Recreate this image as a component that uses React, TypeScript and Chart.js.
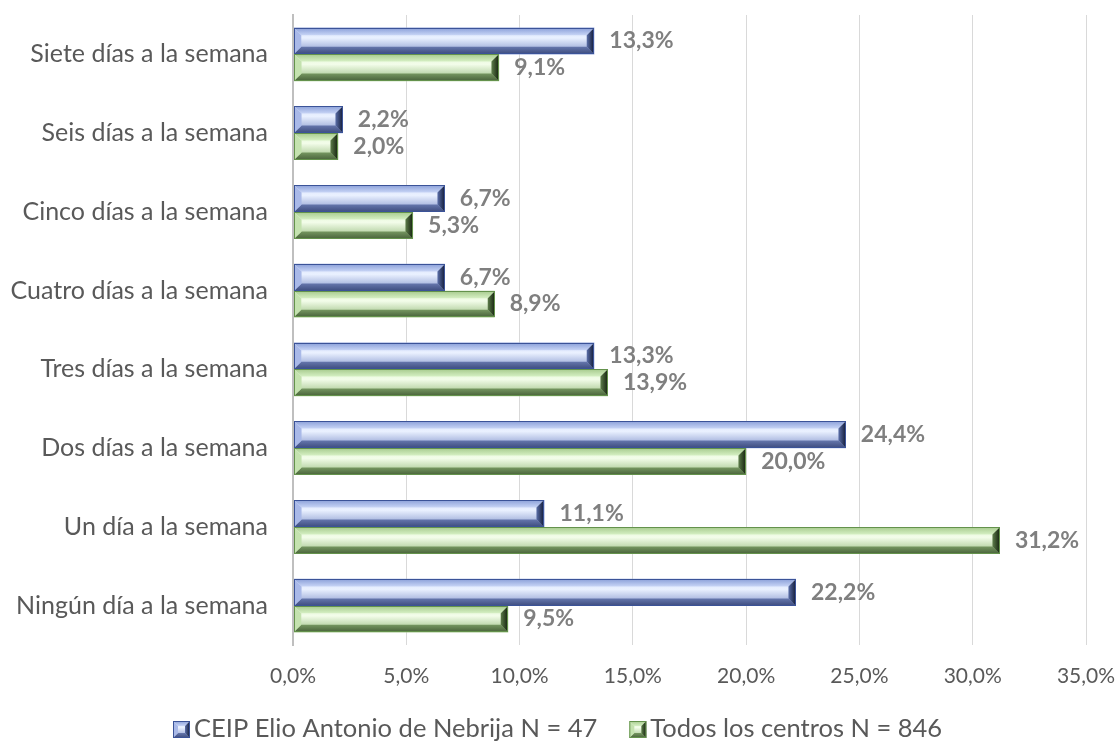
import React, { useEffect, useRef } from "react";
import { Chart, registerables } from "chart.js";

Chart.register(...registerables);

const categories = [
  "Siete días a la semana",
  "Seis días a la semana",
  "Cinco días a la semana",
  "Cuatro días a la semana",
  "Tres días a la semana",
  "Dos días a la semana",
  "Un día a la semana",
  "Ningún día a la semana",
];
const seriesNames = ["CEIP Elio Antonio de Nebrija N = 47", "Todos los centros N = 846"];
const centroValues = [13.3, 2.2, 6.7, 6.7, 13.3, 24.4, 11.1, 22.2];
const todosValues = [9.1, 2.0, 5.3, 8.9, 13.9, 20.0, 31.2, 9.5];
const xTicks = { min: 0, max: 35, step: 5 };

const FONT = "Lato, 'Open Sans', sans-serif";

type Pal = {
  base: string;
  border: string;
  top: [string, string];
  face: [string, string, string];
  bottom: [string, string];
  left: string;
  right: [string, string];
};

const bluePal: Pal = {
  base: "#8fa2d8",
  border: "#3b5398",
  top: ["#8a9fd8", "#c8d5f6"],
  face: ["#d3def9", "#eaf1ff", "#8294cb"],
  bottom: ["#6677ad", "#3d4c7e"],
  left: "#a9b9e8",
  right: ["#5a6ea8", "#111a36"],
};
const greenPal: Pal = {
  base: "#a5c68e",
  border: "#64924c",
  top: ["#a6ca8d", "#d6f0c4"],
  face: ["#def4cf", "#f3fdea", "#97bc7f"],
  bottom: ["#769761", "#48623a"],
  left: "#c4e2af",
  right: ["#5d7d4a", "#13200e"],
};
const palettes = [bluePal, greenPal];

function bevelPaths(ctx: CanvasRenderingContext2D, x0: number, y0: number, x1: number, y1: number, b: number, p: Pal) {
  const w = x1 - x0;
  const h = y1 - y0;
  let g = ctx.createLinearGradient(0, y0, 0, y1);
  g.addColorStop(0, p.face[0]);
  g.addColorStop(0.38, p.face[1]);
  g.addColorStop(1, p.face[2]);
  ctx.fillStyle = g;
  ctx.fillRect(x0, y0, w, h);
  g = ctx.createLinearGradient(0, y0, 0, y0 + b);
  g.addColorStop(0, p.top[0]);
  g.addColorStop(1, p.top[1]);
  ctx.fillStyle = g;
  ctx.beginPath();
  ctx.moveTo(x0, y0);
  ctx.lineTo(x1, y0);
  ctx.lineTo(x1 - b, y0 + b);
  ctx.lineTo(x0 + b, y0 + b);
  ctx.closePath();
  ctx.fill();
  g = ctx.createLinearGradient(0, y1 - b, 0, y1);
  g.addColorStop(0, p.bottom[0]);
  g.addColorStop(1, p.bottom[1]);
  ctx.fillStyle = g;
  ctx.beginPath();
  ctx.moveTo(x0, y1);
  ctx.lineTo(x1, y1);
  ctx.lineTo(x1 - b, y1 - b);
  ctx.lineTo(x0 + b, y1 - b);
  ctx.closePath();
  ctx.fill();
  ctx.fillStyle = p.left;
  ctx.beginPath();
  ctx.moveTo(x0, y0);
  ctx.lineTo(x0 + b, y0 + b);
  ctx.lineTo(x0 + b, y1 - b);
  ctx.lineTo(x0, y1);
  ctx.closePath();
  ctx.fill();
  g = ctx.createLinearGradient(x1 - b, 0, x1, 0);
  g.addColorStop(0, p.right[0]);
  g.addColorStop(1, p.right[1]);
  ctx.fillStyle = g;
  ctx.beginPath();
  ctx.moveTo(x1, y0);
  ctx.lineTo(x1 - b, y0 + b);
  ctx.lineTo(x1 - b, y1 - b);
  ctx.lineTo(x1, y1);
  ctx.closePath();
  ctx.fill();
  ctx.strokeStyle = p.border;
  ctx.lineWidth = 1;
  ctx.strokeRect(x0 + 0.5, y0 + 0.5, w - 1, h - 1);
}

function drawBevel(ctx: CanvasRenderingContext2D, x0: number, y0: number, x1: number, y1: number, p: Pal) {
  const h = y1 - y0;
  const w = x1 - x0;
  if (w <= 0 || h <= 0) return;
  const b = Math.min(h * 0.28, w / 2);
  ctx.save();
  bevelPaths(ctx, x0, y0, x1, y1, b, p);
  ctx.restore();
}

const fmt = (v: number) => v.toFixed(1).replace(".", ",") + "%";

const bevelPlugin = {
  id: "bevelBars",
  afterDatasetsDraw(chart: any) {
    const ctx: CanvasRenderingContext2D = chart.ctx;
    chart.data.datasets.forEach((ds: any, di: number) => {
      const meta = chart.getDatasetMeta(di);
      meta.data.forEach((el: any, i: number) => {
        const { x, y, base, height } = el.getProps(["x", "y", "base", "height"], true);
        const y0 = Math.round(y - height / 2);
        const y1 = Math.round(y + height / 2);
        drawBevel(ctx, Math.round(base), y0, Math.round(x), y1, palettes[di]);
        ctx.save();
        ctx.fillStyle = "#7f7f7f";
        ctx.font = `bold 23px ${FONT}`;
        ctx.textAlign = "left";
        ctx.textBaseline = "middle";
        ctx.fillText(fmt(ds.data[i]), x + 15, y);
        ctx.restore();
      });
    });
  },
};

// legend drawn from the chart's dataset labels
const legendPlugin = {
  id: "bevelLegend",
  afterDraw(chart: any) {
    const ctx: CanvasRenderingContext2D = chart.ctx;
    const box = 17;
    const gapText = 4;
    const gapItem = 32;
    const cy = 729;
    ctx.save();
    ctx.font = `25.5px ${FONT}`;
    const names: string[] = chart.data.datasets.map((d: any) => d.label);
    const widths = names.map((n) => ctx.measureText(n).width);
    const total = widths.reduce((a, w) => a + box + gapText + w, 0) + gapItem * (names.length - 1);
    let x = Math.round(chart.width / 2 - total / 2);
    names.forEach((n, i) => {
      const y0 = Math.round(cy - box / 2);
      bevelPaths(ctx, x, y0, x + box, y0 + box, 5, palettes[i]);
      x += box + gapText;
      ctx.fillStyle = "#595959";
      ctx.textAlign = "left";
      ctx.textBaseline = "middle";
      ctx.fillText(n, x, cy);
      x += widths[i] + gapItem;
    });
    ctx.restore();
  },
};

export default function App() {
  const ref = useRef<HTMLCanvasElement>(null);
  useEffect(() => {
    document.body.style.margin = "0";
    const chart = new Chart(ref.current!, {
      type: "bar",
      data: {
        labels: categories,
        datasets: [
          { label: seriesNames[0], data: centroValues, backgroundColor: bluePal.base, borderWidth: 0 },
          { label: seriesNames[1], data: todosValues, backgroundColor: greenPal.base, borderWidth: 0 },
        ],
      },
      options: {
        indexAxis: "y",
        animation: false,
        responsive: false,
        maintainAspectRatio: false,
        categoryPercentage: 0.68,
        barPercentage: 1,
        layout: { padding: { left: 0, right: 30, top: 15, bottom: 52 } },
        scales: {
          x: {
            min: xTicks.min,
            max: xTicks.max,
            ticks: {
              stepSize: xTicks.step,
              color: "#595959",
              font: { family: FONT, size: 21 },
              padding: 19,
              callback: (v: any) => fmt(Number(v)),
            },
            grid: {
              color: (c: any) => (c.tick && c.tick.value === 0 ? "#bfbfbf" : "#d9d9d9"),
              lineWidth: (c: any) => (c.tick && c.tick.value === 0 ? 2 : 1),
              drawTicks: false,
            },
            border: { display: false },
            afterFit: (s: any) => {
              s.height = 45;
              s.paddingLeft = 0;
              s.paddingRight = 0;
            },
          },
          y: {
            ticks: {
              color: "#595959",
              font: { family: FONT, size: 25 },
              padding: 25,
            },
            grid: { display: false, drawTicks: false },
            border: { display: true, color: "#bfbfbf", width: 2 },
            afterFit: (s: any) => {
              s.width = 293;
              s.paddingTop = 0;
              s.paddingBottom = 0;
            },
          },
        },
        plugins: {
          legend: { display: false },
          tooltip: { enabled: false },
        },
      },
      plugins: [bevelPlugin, legendPlugin],
    });
    return () => chart.destroy();
  }, []);
  return <canvas ref={ref} width={1116} height={742} style={{ display: "block" }} />;
}
